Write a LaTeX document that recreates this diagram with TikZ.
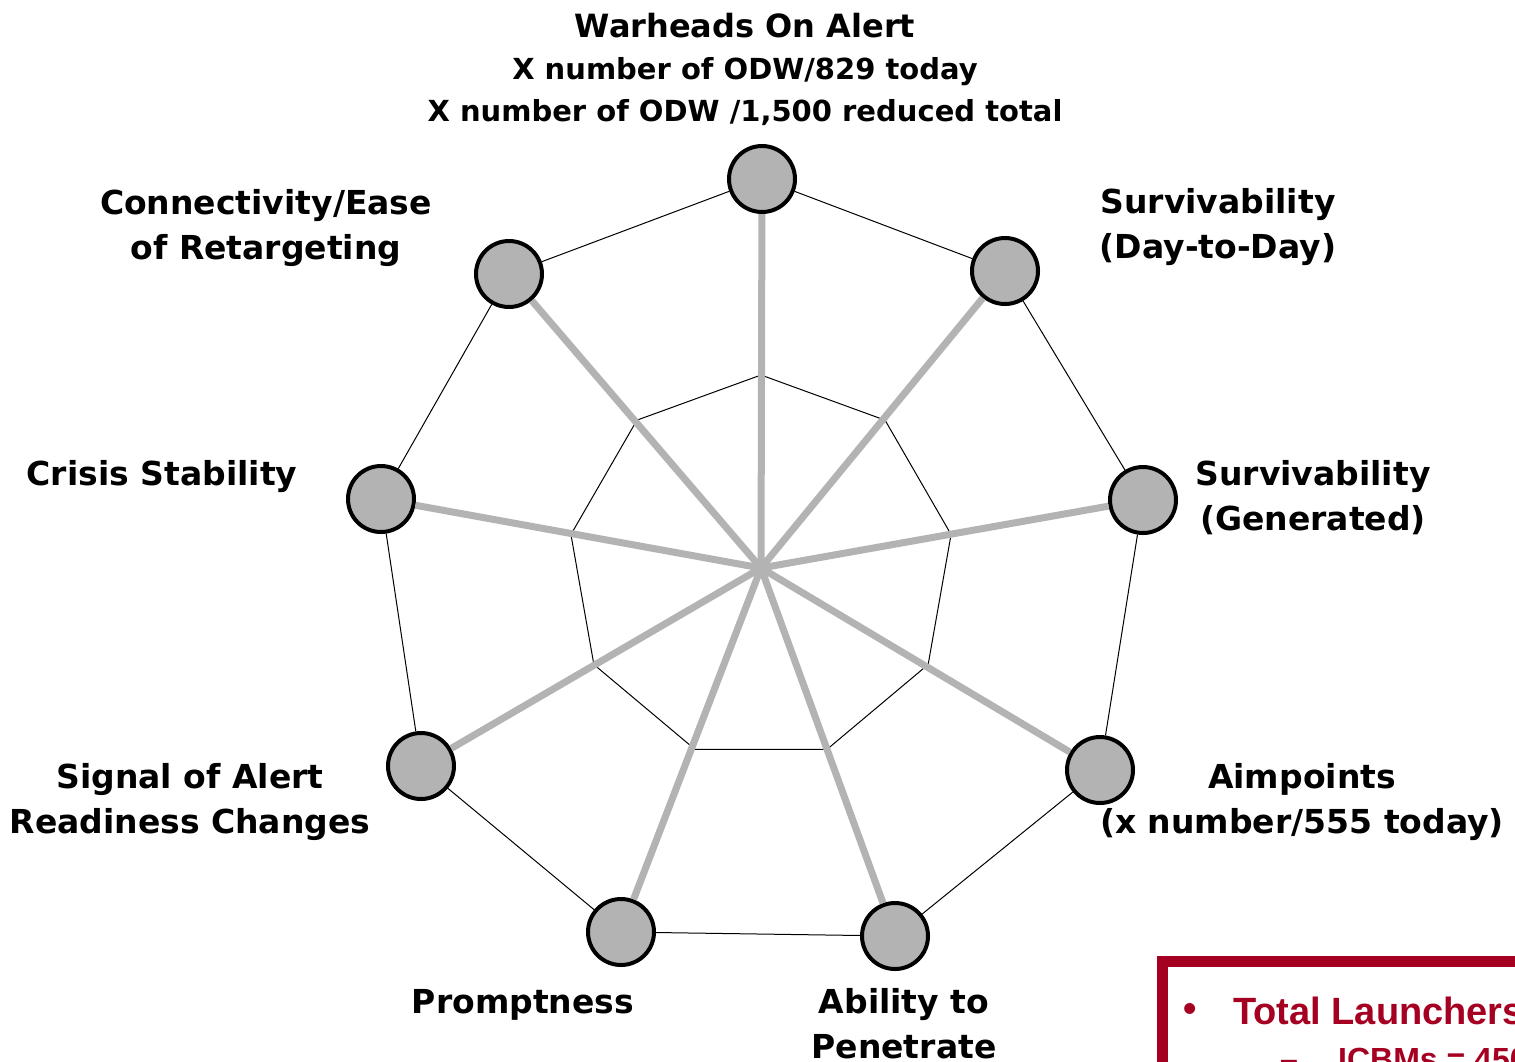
\documentclass[tikz,border=0pt]{standalone}
\usepackage{fontspec}
\setmainfont{DejaVu Sans}
\newfontfamily\redfont{Liberation Sans}
\usetikzlibrary{calc}
\definecolor{nodegray}{HTML}{B3B3B3}
\definecolor{spokegray}{HTML}{B3B3B3}
\definecolor{boxred}{HTML}{A50021}
\tikzset{
  spoke/.style={draw=spokegray, line width=7pt},
  rim/.style={draw=black, line width=1pt},
  vertex/.style={circle, draw=black, line width=4pt, fill=nodegray, minimum size=66pt, inner sep=0pt},
  lbl/.style={font=\bfseries\fontsize{33}{45}\selectfont, align=center, anchor=base, inner sep=0pt},
  ttl/.style={font=\bfseries\fontsize{29}{42}\selectfont, align=center, anchor=base, inner sep=0pt},
  redtxt/.style={text=boxred, font=\redfont\bfseries\fontsize{38}{45}\selectfont, anchor=base west, inner sep=0pt}
}
\begin{document}
\begin{tikzpicture}[x=1pt,y=-1pt]
\useasboundingbox (0,0) rectangle (1515,1061);
\clip (0,0) rectangle (1515,1061);
\fill[white] (0,0) rectangle (1515,1061);

% centre and inner nonagon
\coordinate (c) at (761,568);
\foreach \k in {1,...,9} {
  \coordinate (i\k) at ($(c)+({90-40*(\k-1)}:193pt)$);
}
\draw[rim] (i1) -- (i2) -- (i3) -- (i4) -- (i5) -- (i6) -- (i7) -- (i8) -- (i9) -- cycle;

% outer nodes
\node[vertex] (top) at (762,179) {};
\node[vertex] (ur)  at (1005,271) {};
\node[vertex] (r)   at (1143,500) {};
\node[vertex] (lr)  at (1100,770) {};
\node[vertex] (br)  at (895,936) {};
\node[vertex] (bl)  at (621,932) {};
\node[vertex] (ll)  at (421,766) {};
\node[vertex] (l)   at (381,499) {};
\node[vertex] (ul)  at (509,274) {};

% outer rim
\draw[rim] (top) -- (ur);
\draw[rim] (ur) -- (r);
\draw[rim] (r) -- (lr);
\draw[rim] (lr) -- (br);
\draw[rim] (br) -- (bl);
\draw[rim] (bl) -- (ll);
\draw[rim] (ll) -- (l);
\draw[rim] (l) -- (ul);
\draw[rim] (ul) -- (top);

% spokes
\foreach \n in {top,ur,r,lr,br,bl,ll,l,ul} {
  \draw[spoke] (c) -- (\n);
}

% labels (anchor = baseline of the last line)
\node[ttl] (ttop) at (745,121) {{\fontsize{32}{42}\selectfont Warheads On Alert}\\X number of ODW/829 today\\X number of ODW /1,500 reduced total};
\node[lbl] (tur) at (1218,258) {Survivability\\(Day-to-Day)};
\node[lbl] (tr)  at (1313,530) {Survivability\\(Generated)};
\node[lbl] (tlr) at (1302,833) {Aimpoints\\(x number/555 today)};
\node[lbl] (tbr) at (904,1058) {Ability to\\Penetrate};
\node[lbl] (tbl) at (523,1013) {Promptness};
\node[lbl] (tll) at (190,833) {Signal of Alert\\Readiness Changes};
\node[lbl] (tl)  at (162,485) {Crisis Stability};
\node[lbl] (tul) at (266,259) {Connectivity/Ease\\of Retargeting};

% red box
\draw[draw=boxred, line width=11pt] (1162.5,961.5) rectangle (1800,1300);
\node[text=boxred, font=\redfont\bfseries\fontsize{38}{45}\selectfont, inner sep=0pt] (bul) at (1190,1012) {•};
\node[redtxt] (tot) at (1233,1024) {Total Launchers};
\node[redtxt, font=\redfont\bfseries\fontsize{32}{40}\selectfont] (dash) at (1280,1070) {–};
\node[redtxt, font=\redfont\bfseries\fontsize{32}{40}\selectfont] (icbm) at (1338,1070) {ICBMs = 450};
\end{tikzpicture}
\end{document}
